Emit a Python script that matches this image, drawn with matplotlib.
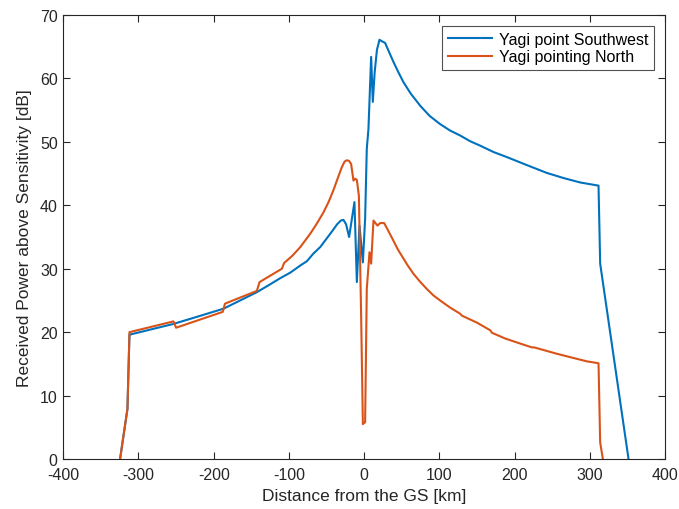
import matplotlib
matplotlib.use("Agg")
import matplotlib.pyplot as plt

plt.rcParams['font.family'] = ['Liberation Sans', 'DejaVu Sans']
plt.rcParams['axes.unicode_minus'] = False

# Yagi antenna pointed southwest
sw_dist = [-324.5, -314.7, -312.0, -253.5, -220.0, -187.0, -142.7, -127.0, -111.7,
           -98.0, -85.0, -76.0, -67.4, -58.5, -49.6, -42.0, -36.0, -31.0, -27.5,
           -24.0, -20.0, -12.9, -9.7, -6.2, -1.7,
           1.3, 3.5, 5.7, 9.3, 11.5, 14.0, 17.0, 20.4, 23.0, 27.9, 33.0, 39.0, 45.0,
           52.3, 62.0, 74.5, 87.0, 101.0, 114.0, 127.7, 141.0, 154.3, 172.0, 189.8,
           215.0, 243.0, 265.0, 287.2, 311.6, 313.8, 351.5]
sw_power = [0.0, 7.9, 19.6, 21.3, 22.5, 23.7, 26.3, 27.4, 28.5,
            29.4, 30.5, 31.2, 32.4, 33.4, 34.8, 36.0, 37.0, 37.6, 37.7,
            37.0, 35.0, 40.5, 27.9, 36.8, 31.0,
            37.9, 48.9, 52.0, 63.4, 56.3, 61.0, 64.5, 66.1, 65.9, 65.6, 64.2, 62.6, 61.1,
            59.4, 57.6, 55.7, 54.1, 52.8, 51.8, 51.0, 50.1, 49.4, 48.4, 47.6,
            46.4, 45.1, 44.3, 43.6, 43.1, 30.8, 0.0]

# Yagi antenna pointed north
n_dist = [-324.5, -314.7, -312.0, -253.5, -250.0, -188.0, -185.0, -142.7, -139.0,
          -109.4, -106.4, -95.0, -85.0, -71.8, -63.0, -54.0, -47.0, -40.8, -35.0,
          -29.7, -26.0, -23.0, -20.0, -17.3, -14.2,
          -12.0, -9.7, -7.0, -4.0, -1.7, 1.3, 3.5, 7.1, 9.3, 12.4, 17.7, 21.3, 26.6,
          32.0, 39.0, 45.0, 52.3, 58.0, 65.6, 74.0, 83.4, 92.0, 101.0, 114.0, 127.7,
          130.0, 150.0, 167.6, 170.0, 187.5, 205.0, 223.0, 226.0, 256.0, 296.0,
          311.6, 313.8, 317.4]
n_power = [0.0, 7.9, 20.0, 21.7, 20.7, 23.2, 24.5, 26.5, 27.9,
           30.0, 30.9, 32.1, 33.4, 35.5, 37.1, 38.9, 40.6, 42.4, 44.3,
           46.0, 46.9, 47.1, 47.0, 46.5, 43.9,
           44.2, 44.0, 41.5, 22.6, 5.5, 5.8, 26.8, 32.6, 30.8, 37.6, 36.8, 37.2, 37.2,
           36.0, 34.4, 33.0, 31.6, 30.5, 29.2, 28.0, 26.8, 25.8, 25.0, 23.9, 22.9,
           22.6, 21.5, 20.3, 19.9, 19.0, 18.3, 17.6, 17.6, 16.6, 15.4,
           15.1, 2.6, 0.0]

x_ticks = [-400, -300, -200, -100, 0, 100, 200, 300, 400]
y_ticks = [0, 10, 20, 30, 40, 50, 60, 70]

fig = plt.figure(figsize=(6.79, 5.10), dpi=100)
ax = fig.add_axes([0.0932, 0.098, 0.8862, 0.8706])

ax.plot(sw_dist, sw_power, color='#0072BD', lw=1.5, label='Yagi point Southwest')
ax.plot(n_dist, n_power, color='#D95319', lw=1.5, label='Yagi pointing North')

ax.set_xlim(-400, 400)
ax.set_ylim(0, 70)
ax.set_xticks(x_ticks)
ax.set_yticks(y_ticks)

axis_color = '#262626'
for s in ax.spines.values():
    s.set_color(axis_color)
    s.set_linewidth(0.8)
ax.tick_params(direction='in', length=5, width=0.8, colors=axis_color,
               labelsize=11.5, top=True, right=True)
ax.tick_params(axis='x', pad=6)
ax.tick_params(axis='y', pad=4)

ax.set_xlabel('Distance from the GS [km]', fontsize=12.5, color=axis_color, labelpad=4)
ax.set_ylabel('Received Power above Sensitivity [dB]', fontsize=12.5, color=axis_color, labelpad=6)

leg = ax.legend(loc='upper right', fontsize=11.5, frameon=True, fancybox=False,
                borderaxespad=0.7, handlelength=2.8, handletextpad=0.4,
                borderpad=0.35, labelspacing=0.15)
leg.get_frame().set_edgecolor(axis_color)
leg.get_frame().set_linewidth(0.8)

fig.savefig('out.png', dpi=100)
